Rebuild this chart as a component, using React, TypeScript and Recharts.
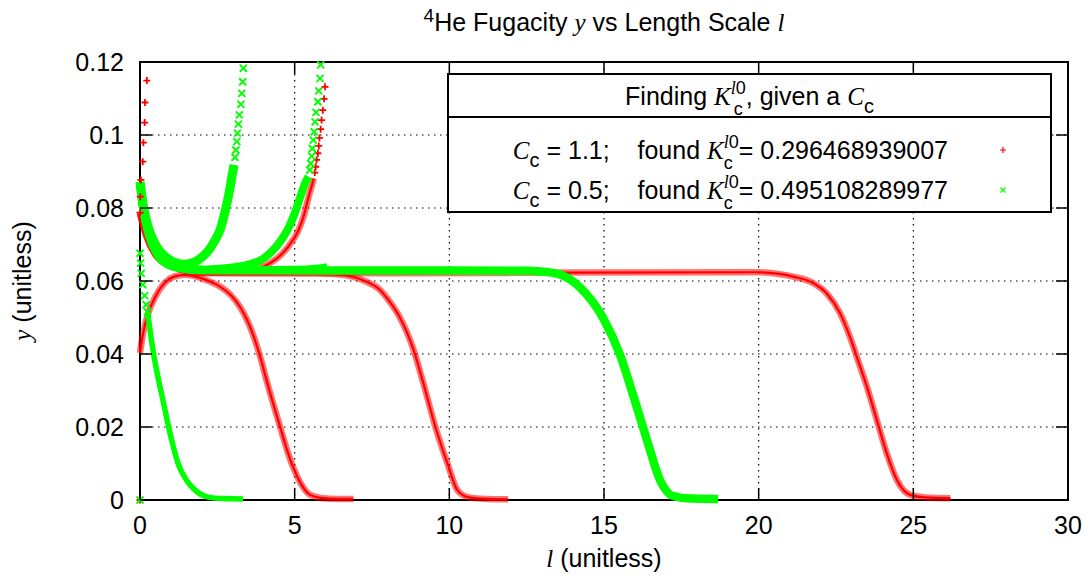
import {
  ComposedChart, Line, Scatter, XAxis, YAxis, CartesianGrid, ReferenceArea, Legend,
} from 'recharts';

type Pt = { x: number; y: number };
const pts = (rows: number[][]): Pt[] => rows.map(([x, y]) => ({ x, y }));

// C_c = 1.1 trajectories (red "+")
const redRise = pts([[0, 0.0403], [0.1, 0.0457], [0.26, 0.051], [0.49, 0.0556], [0.8, 0.0595], [1.1, 0.0612], [1.45, 0.0617], [1.9, 0.061], [2.3, 0.0597], [2.6, 0.0584], [2.95, 0.056], [3.24, 0.0528], [3.45, 0.0495], [3.66, 0.0452], [3.9, 0.0388], [4.1, 0.0325], [4.32, 0.026], [4.53, 0.02], [4.75, 0.0138], [4.95, 0.009], [5.2, 0.0045], [5.5, 0.0014], [5.9, 0.0005], [6.4, 0.0003], [6.9, 0.0003]]);
const redDropA = pts([[0, 0.0785], [0.2, 0.0725], [0.5, 0.0672], [0.9, 0.0645], [1.4, 0.063], [2, 0.0622], [4, 0.0621], [5.6, 0.0621], [6.3, 0.0619], [6.9, 0.0611], [7.35, 0.0597], [7.7, 0.058], [8.1, 0.054], [8.4, 0.05], [8.85, 0.041], [9.16, 0.032], [9.55, 0.02], [9.94, 0.01], [10.26, 0.0027], [10.6, 0.0008], [11.2, 0.0003], [11.9, 0.0002]]);
const redDropB = pts([[0, 0.0785], [0.2, 0.0725], [0.5, 0.0672], [0.9, 0.0645], [1.4, 0.063], [2, 0.0622], [8, 0.0621], [14, 0.0623], [20, 0.0624], [20.6, 0.062], [21.12, 0.0612], [21.77, 0.0594], [22.2, 0.0566], [22.63, 0.0512], [22.96, 0.0445], [23.2, 0.0385], [23.5, 0.031], [23.82, 0.0219], [24.14, 0.0128], [24.47, 0.0055], [24.9, 0.0014], [25.4, 0.0007], [26.2, 0.0005]]);
const redBlowup = pts([[0, 0.0785], [0.2, 0.0725], [0.5, 0.0672], [0.9, 0.0645], [1.4, 0.063], [2, 0.0624], [3, 0.0625], [3.5, 0.063], [4, 0.064], [4.4, 0.066], [4.8, 0.0695], [5.1, 0.0735], [5.3, 0.078], [5.45, 0.083], [5.55, 0.086], [5.62, 0.0881]]);
const redBlowupTip = pts([[5.65, 0.0897], [5.68, 0.0913], [5.71, 0.0932], [5.75, 0.095], [5.78, 0.097], [5.8, 0.0992], [5.84, 0.1016], [5.87, 0.1041], [5.91, 0.1068], [5.95, 0.1099], [5.98, 0.1132]]);
const redEarly = pts([[0, 0.0787], [0.01, 0.0831], [0.03, 0.0877], [0.09, 0.0927], [0.11, 0.0979], [0.15, 0.1034], [0.16, 0.1089], [0.22, 0.1149]]);
const redOrigin = pts([[0, 0]]);

// C_c = 0.5 trajectories (green "x")
const greenFallHead = pts([[0, 0.0676], [0.02, 0.0649], [0.04, 0.0621], [0.09, 0.059], [0.15, 0.056], [0.2, 0.0535], [0.24, 0.0515]]);
const greenFall = pts([[0.24, 0.0515], [0.28, 0.0493], [0.42, 0.041], [0.58, 0.0337], [0.75, 0.027], [0.9, 0.021], [1.05, 0.0155], [1.23, 0.01], [1.5, 0.0055], [1.78, 0.0027], [2.2, 0.0008], [2.7, 0.0004], [3.33, 0.0003]]);
const greenTurn = pts([[0, 0.0872], [0.1, 0.081], [0.25, 0.0752], [0.5, 0.07], [0.8, 0.0668], [1.1, 0.0652], [1.4, 0.0646], [1.7, 0.065], [2.0, 0.0665], [2.2, 0.0682], [2.4, 0.0708], [2.6, 0.0743], [2.75, 0.079], [2.9, 0.085], [3.0, 0.09], [3.04, 0.0918]]);
const greenTurnTip = pts([[3.07, 0.0939], [3.1, 0.0959], [3.13, 0.0982], [3.15, 0.1005], [3.18, 0.103], [3.21, 0.1055], [3.26, 0.1084], [3.29, 0.1114], [3.32, 0.1146], [3.34, 0.1183]]);
const greenBlowup = pts([[0, 0.087], [0.1, 0.08], [0.3, 0.0725], [0.6, 0.0668], [1.0, 0.0642], [1.5, 0.0633], [2.0, 0.0631], [2.5, 0.0633], [3.0, 0.0637], [3.5, 0.0645], [3.9, 0.0657], [4.25, 0.068], [4.55, 0.071], [4.8, 0.0745], [5.0, 0.0785], [5.2, 0.0835], [5.35, 0.087], [5.45, 0.0886]]);
const greenBlowupTip = pts([[5.49, 0.0904], [5.52, 0.0922], [5.55, 0.0942], [5.57, 0.0963], [5.6, 0.0986], [5.63, 0.1009], [5.66, 0.1036], [5.69, 0.1062], [5.75, 0.1091], [5.78, 0.1121], [5.82, 0.1155], [5.84, 0.1192]]);
const greenFlat = pts([[0, 0.087], [0.1, 0.08], [0.3, 0.0725], [0.6, 0.0668], [1.0, 0.0642], [1.5, 0.0633], [2.0, 0.063], [3.0, 0.063], [4.0, 0.063], [5.0, 0.0631], [5.6, 0.0633], [6.05, 0.0638]]);
const greenDrop = pts([[0, 0.087], [0.1, 0.08], [0.3, 0.0725], [0.6, 0.0668], [1.0, 0.0642], [1.5, 0.0633], [2.0, 0.063], [6, 0.0629], [10, 0.0629], [12.5, 0.0628], [13.2, 0.0624], [13.6, 0.0617], [14.23, 0.0582], [14.97, 0.0499], [15.52, 0.0397], [15.94, 0.0288], [16.39, 0.0164], [16.81, 0.0055], [17.23, 0.0011], [17.8, 0.0004], [18.69, 0.0003]]);
const greenOrigin = pts([[0, 0]]);

const xTicks = [0, 5, 10, 15, 20, 25, 30];
const yTicks = [0, 0.02, 0.04, 0.06, 0.08, 0.1, 0.12];

const W = 1074;
const H = 564;
const M = { top: 54, right: 14, bottom: 32, left: 52 };
const Y_AXIS_W = 80;
const X_AXIS_H = 40;
const PLOT_L = M.left + Y_AXIS_W;
const PLOT_R = W - M.right;
const PLOT_T = M.top;
const PLOT_B = H - M.bottom - X_AXIS_H;
const TICK = 12;

const SANS = '"Liberation Sans", Arial, Helvetica, sans-serif';
const SERIF = '"Liberation Serif", "Times New Roman", serif';
const RED = '#ff0000';
const GREEN = '#00ff00';
const FS = 25;

const redBands = [redRise, redDropA, redDropB, redBlowup];
const greenBands = [
  { data: greenFall, w: 5.5 },
  { data: greenTurn, w: 9 },
  { data: greenBlowup, w: 8 },
  { data: greenFlat, w: 8 },
  { data: greenDrop, w: 8.5 },
];

const Plus = (p: any) => (
  <path d={`M${p.cx - 3.5},${p.cy}h7M${p.cx},${p.cy - 3.5}v7`} stroke={RED} strokeWidth={1.8} fill="none" />
);
const Cross = (p: any) => (
  <path d={`M${p.cx - 3.5},${p.cy - 3.5}l7,7M${p.cx - 3.5},${p.cy + 3.5}l7,-7`} stroke={GREEN} strokeWidth={1.9} fill="none" />
);

const XTick = ({ x, payload }: any) => (
  <g>
    <line x1={x} x2={x} y1={PLOT_B} y2={PLOT_B - TICK} stroke="#000" strokeWidth={1.5} />
    <line x1={x} x2={x} y1={PLOT_T} y2={PLOT_T + TICK} stroke="#000" strokeWidth={1.5} />
    <text x={x} y={PLOT_B + 25} textAnchor="middle" dominantBaseline="central"
      fontFamily={SANS} fontSize={FS} fill="#000">{payload.value}</text>
  </g>
);

const YTick = ({ y, payload }: any) => (
  <g>
    <line x1={PLOT_L} x2={PLOT_L + TICK} y1={y} y2={y} stroke="#000" strokeWidth={1.5} />
    <line x1={PLOT_R - TICK} x2={PLOT_R} y1={y} y2={y} stroke="#000" strokeWidth={1.5} />
    <text x={PLOT_L - 16} y={y} textAnchor="end" dominantBaseline="central"
      fontFamily={SANS} fontSize={FS} fill="#000">{String(payload.value)}</text>
  </g>
);

const It = ({ children }: any) => (
  <span style={{ fontFamily: SERIF, fontStyle: 'italic' }}>{children}</span>
);
const Cc = () => (
  <span><It>C</It><span style={{ fontSize: 20, position: 'relative', top: 8 }}>c</span></span>
);
// K with the sub "c" stacked under the super "l0"
const Kc = () => (
  <span>
    <It>K</It>
    <span style={{
      display: 'inline-flex', flexDirection: 'column', fontSize: 18, lineHeight: '21px',
      position: 'relative', top: -11,
    }}>
      <span><It>l</It>0</span>
      <span>c</span>
    </span>
  </span>
);

const legendRows = [
  { cc: '1.1', k: '0.296468939007', mark: 'plus' },
  { cc: '0.5', k: '0.495108289977', mark: 'cross' },
];

const LegendBox = () => (
  <div style={{
    position: 'relative', width: 605, height: 140, boxSizing: 'border-box',
    border: '2px solid #000', background: '#fff', fontFamily: SANS, fontSize: FS, color: '#000',
  }}>
    <div style={{
      height: 43, borderBottom: '2px solid #000', boxSizing: 'border-box',
      textAlign: 'center', lineHeight: '42px', whiteSpace: 'nowrap',
    }}>
      Finding <Kc />, given a <Cc />
    </div>
    {legendRows.map((r, i) => (
      <div key={r.cc} style={{ position: 'absolute', top: 58 + i * 40, left: 0, width: 605, height: 34 }}>
        <div style={{
          position: 'absolute', right: 106, top: 0, lineHeight: '34px', whiteSpace: 'pre',
        }}>
          <Cc /> = {r.cc};    found <Kc />= {r.k}
        </div>
        <svg style={{ position: 'absolute', left: 547, top: 10 }} width={14} height={14}>
          {r.mark === 'plus'
            ? <path d="M4,7h6M7,4v6" stroke={RED} strokeWidth={1.2} />
            : <path d="M4.5,4.5l5,5M4.5,9.5l5,-5" stroke={GREEN} strokeWidth={1.2} />}
        </svg>
      </div>
    ))}
  </div>
);

export default function App() {
  return (
    <div style={{ position: 'relative', width: W, height: H, fontFamily: SANS, color: '#000' }}>
      <div style={{
        position: 'absolute', left: PLOT_L, width: PLOT_R - PLOT_L, top: 0, textAlign: 'center',
        fontSize: FS, lineHeight: '28px', whiteSpace: 'nowrap',
      }}>
        <span style={{ fontSize: 19, position: 'relative', top: -9 }}>4</span>He Fugacity <It>y</It> vs Length Scale <It>l</It>
      </div>

      <ComposedChart width={W} height={H} margin={M}>
        <CartesianGrid stroke="#000" strokeWidth={1.2} strokeDasharray="1.5 4.5" />
        <XAxis dataKey="x" type="number" domain={[0, 30]} ticks={xTicks} interval={0}
          axisLine={false} tickLine={false} height={X_AXIS_H} tick={XTick} />
        <YAxis dataKey="y" type="number" domain={[0, 0.12]} ticks={yTicks} interval={0}
          axisLine={false} tickLine={false} width={Y_AXIS_W} tick={YTick} />

        {redBands.map((d, i) => (
          <Line key={`rw${i}`} data={d} dataKey="y" type="monotone" stroke={RED} strokeOpacity={0.55}
            strokeWidth={6.5} dot={false} activeDot={false} isAnimationActive={false} legendType="none" />
        ))}
        {redBands.map((d, i) => (
          <Line key={`rc${i}`} data={d} dataKey="y" type="monotone" stroke={RED}
            strokeWidth={2.2} dot={false} activeDot={false} isAnimationActive={false} legendType="none" />
        ))}
        <Scatter data={redBlowupTip} dataKey="y" shape={Plus} isAnimationActive={false} legendType="none" />
        <Scatter data={redEarly} dataKey="y" shape={Plus} isAnimationActive={false} legendType="none" />
        <Scatter data={redOrigin} dataKey="y" shape={Plus} isAnimationActive={false} legendType="none" />

        {greenBands.map((b, i) => (
          <Line key={`g${i}`} data={b.data} dataKey="y" type="monotone" stroke={GREEN}
            strokeWidth={b.w} dot={false} activeDot={false} isAnimationActive={false} legendType="none" />
        ))}
        <Scatter data={greenFallHead} dataKey="y" shape={Cross} isAnimationActive={false} legendType="none" />
        <Scatter data={greenTurnTip} dataKey="y" shape={Cross} isAnimationActive={false} legendType="none" />
        <Scatter data={greenBlowupTip} dataKey="y" shape={Cross} isAnimationActive={false} legendType="none" />
        <Scatter data={greenOrigin} dataKey="y" shape={Cross} isAnimationActive={false} legendType="none" />

        <ReferenceArea x1={0} x2={30} y1={0} y2={0.12} fill="none" fillOpacity={0}
          stroke="#000" strokeWidth={2} strokeOpacity={1} />

        <Legend layout="horizontal" verticalAlign="middle" align="center"
          wrapperStyle={{ position: 'absolute', left: 439, top: 65, width: 605, height: 140, margin: 0 }}
          content={() => <LegendBox />} />
      </ComposedChart>

      <div style={{
        position: 'absolute', left: PLOT_L, width: PLOT_R - PLOT_L, top: 536, textAlign: 'center',
        fontSize: FS, lineHeight: '28px', whiteSpace: 'nowrap',
      }}>
        <It>l</It> (unitless)
      </div>
      <div style={{
        position: 'absolute', left: 14, top: (PLOT_T + PLOT_B) / 2, fontSize: FS, lineHeight: '28px',
        whiteSpace: 'nowrap', transform: 'translate(-50%, -50%) rotate(-90deg)',
      }}>
        <It>y</It> (unitless)
      </div>
    </div>
  );
}
